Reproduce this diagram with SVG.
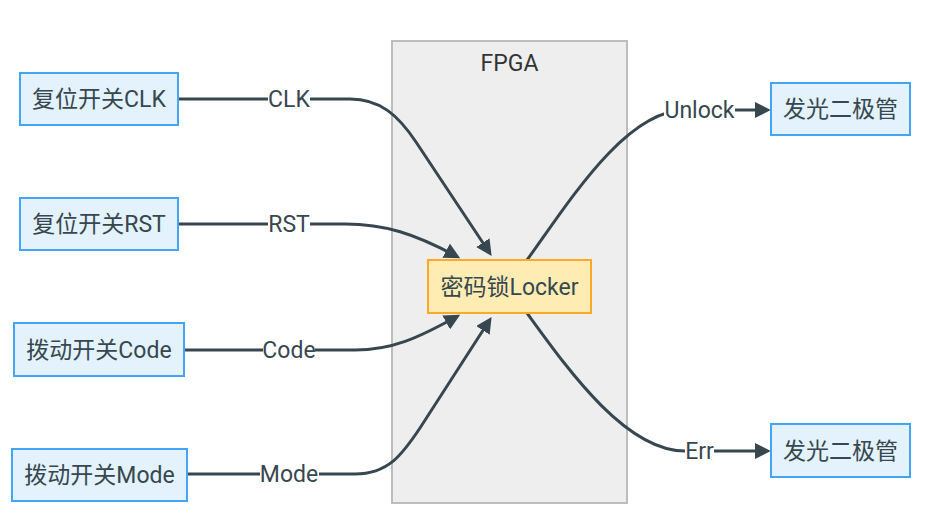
<svg xmlns="http://www.w3.org/2000/svg" width="936" height="529" viewBox="0 0 936 529">
<style>
text{font-family:Roboto,"Noto Sans CJK SC",sans-serif;font-size:23px;fill:#37474f;text-anchor:middle;dominant-baseline:central}
.node rect{fill:#e3f2fd;stroke:#42a5f5;stroke-width:2}
#locker rect{fill:#ffecb3;stroke:#ffa726;stroke-width:2}
.edge{fill:none;stroke:#37474f;stroke-width:3}
.lbl{fill:#ffffff}
</style>
<defs>
<marker id="arr" viewBox="0 0 10 10" refX="7" refY="5" markerWidth="16" markerHeight="16" markerUnits="userSpaceOnUse" orient="auto">
<path d="M0,0 L10,5 L0,10 z" fill="#37474f"/>
</marker>
</defs>
<rect width="936" height="529" fill="#ffffff"/>
<g id="fpga">
<rect x="392" y="41" width="235" height="462" fill="#eeeeee" stroke="#bdbdbd" stroke-width="2"/>
<text x="509.5" y="63" style="fill:#333333">FPGA</text>
</g>
<g id="connectors">
<path class="edge" d="M178,99 H350 C380,99 398,115 416,142 L489,252" marker-end="url(#arr)"/>
<path class="edge" d="M178,224 H345 C385,224 415,234 456,256" marker-end="url(#arr)"/>
<path class="edge" d="M184,350 H355 C392,350 418,338 456,317" marker-end="url(#arr)"/>
<path class="edge" d="M187,474 H355 C388,474 402,455 420,428 L489,321" marker-end="url(#arr)"/>
<path class="edge" d="M527,260 C567,205 625,110 685,110 L766,110" marker-end="url(#arr)"/>
<path class="edge" d="M527,313 C567,368 625,451 685,451 L766,451" marker-end="url(#arr)"/>
<rect class="lbl" x="268" y="87" width="42" height="24"/>
<text x="289" y="99">CLK</text>
<rect class="lbl" x="268" y="212" width="42" height="24"/>
<text x="289" y="224">RST</text>
<rect class="lbl" x="263" y="338" width="52" height="24"/>
<text x="289" y="350">Code</text>
<rect class="lbl" x="260" y="462" width="59" height="24"/>
<text x="289" y="474">Mode</text>
<rect class="lbl" x="664" y="98" width="71" height="24"/>
<text x="699.5" y="110">Unlock</text>
<rect class="lbl" x="685" y="439" width="29" height="24"/>
<text x="699.5" y="451">Err</text>
</g>
<g id="clk" class="node"><rect x="20" y="73" width="158" height="52"/><text x="99" y="99">复位开关CLK</text></g>
<g id="rst" class="node"><rect x="20" y="198" width="158" height="52"/><text x="99" y="224">复位开关RST</text></g>
<g id="code" class="node"><rect x="14" y="323" width="170" height="53"/><text x="99" y="350">拨动开关Code</text></g>
<g id="mode" class="node"><rect x="12" y="449" width="175" height="52"/><text x="99.5" y="475">拨动开关Mode</text></g>
<g id="locker" class="node"><rect x="428" y="260" width="163" height="53"/><text x="509.5" y="287">密码锁Locker</text></g>
<g id="led1" class="node"><rect x="771" y="83" width="139" height="52"/><text x="840.5" y="109">发光二极管</text></g>
<g id="led2" class="node"><rect x="771" y="424" width="139" height="53"/><text x="840.5" y="451">发光二极管</text></g>
</svg>
